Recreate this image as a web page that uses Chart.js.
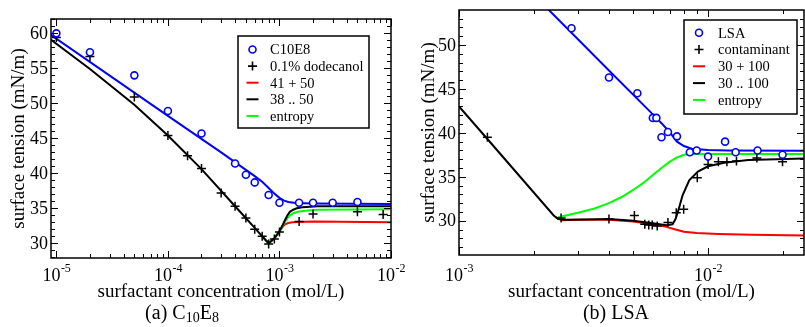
<!DOCTYPE html>
<html>
<head>
<meta charset="utf-8">
<script src="https://cdn.jsdelivr.net/npm/chart.js@4.4.1/dist/chart.umd.min.js"></script>
<style>
html, body { margin: 0; padding: 0; background: #fff; width: 805px; height: 327px; overflow: hidden; }
.panel { position: absolute; top: 0; }
</style>
</head>
<body>
<div class="panel" style="left:0px"><canvas id="chartA" width="420" height="327"></canvas></div>
<div class="panel" style="left:400px"><canvas id="chartB" width="410" height="327"></canvas></div>
<script>
// ---- panel (a): C10E8 ----
const c10e8Conc    = [1e-5, 2e-5, 5e-5, 1e-4, 2e-4, 4e-4, 5e-4, 6e-4, 8e-4, 1e-3, 1.5e-3, 2e-3, 3e-3, 5e-3];
const c10e8Tension = [60.0, 57.3, 54.0, 48.9, 45.7, 41.4, 39.8, 38.7, 36.9, 35.8, 35.8, 35.8, 35.8, 35.9];

const dodecConc    = [1e-5, 2e-5, 5e-5, 1e-4, 1.5e-4, 2e-4, 3e-4, 4e-4, 5e-4, 6e-4, 7e-4, 8e-4, 9e-4, 1e-3, 1.5e-3, 2e-3, 5e-3, 8.5e-3];
const dodecTension = [59.4, 56.7, 50.9, 45.4, 42.5, 40.7, 37.2, 35.3, 33.6, 32.0, 31.0, 29.9, 30.6, 31.6, 33.1, 34.2, 34.5, 34.1];

const fitAConc    = [8.9e-6, 1e-4, 3e-4, 5e-4, 6e-4, 7e-4, 8e-4, 9e-4, 1e-3, 1.1e-3, 1.2e-3, 1.4e-3, 2e-3, 1e-2];
const fitATension = [59.8, 48.2, 43.0, 40.5, 39.6, 38.8, 37.9, 37.1, 36.5, 36.1, 35.9, 35.75, 35.7, 35.6];

const blackAConc    = [8.9e-6, 2e-5, 5e-5, 1e-4, 2e-4, 4e-4, 6e-4, 7e-4, 8e-4, 9e-4, 1e-3, 1.06e-3, 1.12e-3, 1.18e-3, 1.24e-3, 1.33e-3, 1.43e-3, 1.6e-3, 1.75e-3, 2.2e-3, 1e-2];
const blackATension = [59.1, 54.9, 49.8, 45.4, 40.6, 35.3, 32.2, 31.0, 30.0, 30.7, 31.7, 32.5, 33.3, 34.0, 34.5, 34.8, 35.0, 35.15, 35.2, 35.3, 35.3];

const redAConc    = [7e-4, 8e-4, 9e-4, 1e-3, 1.06e-3, 1.12e-3, 1.2e-3, 1.3e-3, 1.5e-3, 2e-3, 1e-2];
const redATension = [31.0, 30.0, 30.7, 31.7, 32.3, 32.7, 32.9, 33.0, 33.05, 33.1, 33.0];

const greenAConc    = [7e-4, 8e-4, 9e-4, 1e-3, 1.06e-3, 1.12e-3, 1.18e-3, 1.24e-3, 1.33e-3, 1.5e-3, 1.8e-3, 2.2e-3, 1e-2];
const greenATension = [31.0, 30.0, 30.7, 31.7, 32.4, 33.1, 33.6, 34.0, 34.3, 34.55, 34.7, 34.8, 34.85];

const labelsA = ['C10E8', '0.1% dodecanol', '41 + 50', '38 .. 50', 'entropy'];

// ---- panel (b): LSA ----
const lsaConc    = [2.83e-3, 4.0e-3, 5.2e-3, 6.0e-3, 6.2e-3, 6.5e-3, 6.9e-3, 7.5e-3, 8.45e-3, 9.0e-3, 1.0e-2, 1.17e-2, 1.29e-2, 1.58e-2, 1.99e-2];
const lsaTension = [51.9, 46.3, 44.5, 41.7, 41.7, 39.5, 40.1, 39.6, 37.8, 38.0, 37.3, 39.0, 37.8, 38.0, 37.5];

const contConc    = [1.3e-3, 2.57e-3, 4.0e-3, 5.06e-3, 5.57e-3, 5.78e-3, 5.97e-3, 6.25e-3, 6.9e-3, 7.45e-3, 7.98e-3, 9.05e-3, 1.0e-2, 1.1e-2, 1.19e-2, 1.3e-2, 1.57e-2, 1.99e-2];
const contTension = [39.5, 30.3, 30.2, 30.6, 29.6, 29.5, 29.5, 29.4, 29.8, 30.9, 31.3, 34.9, 36.4, 36.7, 36.7, 36.8, 37.15, 36.7];

const fitBConc    = [2.2e-3, 4e-3, 6e-3, 6.5e-3, 7e-3, 7.5e-3, 8e-3, 8.6e-3, 1e-2, 1.2e-2, 2.5e-2];
const fitBTension = [54.5, 47.1, 42.1, 41.1, 40.1, 39.0, 38.5, 38.2, 38.05, 38.0, 37.95];

const blackBConc    = [1e-3, 1.3e-3, 2.4e-3, 2.5e-3, 2.65e-3, 3.2e-3, 4e-3, 5e-3, 6e-3, 6.8e-3, 7.2e-3, 7.4e-3, 7.6e-3, 7.9e-3, 8.4e-3, 9.1e-3, 1e-2, 1.16e-2, 1.45e-2, 2.5e-2];
const blackBTension = [43.0, 39.3, 30.6, 30.2, 30.1, 30.15, 30.2, 30.0, 29.7, 29.5, 29.6, 30.2, 31.2, 32.9, 34.6, 35.6, 36.2, 36.6, 36.9, 37.1];

const redBConc    = [2.45e-3, 2.6e-3, 3e-3, 4e-3, 5e-3, 6e-3, 6.8e-3, 7.4e-3, 8e-3, 9e-3, 1.1e-2, 1.5e-2, 2.5e-2];
const redBTension = [30.4, 30.05, 30.1, 30.1, 29.9, 29.6, 29.3, 29.0, 28.75, 28.6, 28.5, 28.4, 28.3];

const greenBConc    = [2.5e-3, 3e-3, 3.5e-3, 4e-3, 4.5e-3, 5e-3, 5.5e-3, 6e-3, 6.5e-3, 7e-3, 7.5e-3, 8e-3, 9e-3, 2.5e-2];
const greenBTension = [30.4, 30.9, 31.4, 32.0, 32.7, 33.5, 34.3, 35.2, 36.0, 36.7, 37.2, 37.5, 37.6, 37.6];

const labelsB = ['LSA', 'contaminant', '30 + 100', '30 .. 100', 'entropy'];

// tick labels
const yTicksA = [30, 35, 40, 45, 50, 55, 60];
const yTicksB = [30, 35, 40, 45, 50];
const xDecadesA = [-5, -4, -3, -2];
const xDecadesB = [-3, -2];

const SERIF = '"Liberation Serif", "Times New Roman", serif';

function toPoints(xs, ys) {
    return xs.map((x, i) => ({ x: x, y: ys[i] }));
}

/**
 * Frame, inward ticks, tick labels, axis titles and caption
 */
const framePlugin = {
    id: 'frame',
    afterDraw(chart, args, o) {
        const ctx = chart.ctx;
        const a = chart.chartArea;
        const xs = chart.scales.x;
        const ys = chart.scales.y;
        ctx.save();
        ctx.strokeStyle = '#000';
        ctx.lineWidth = 1;
        ctx.beginPath();
        // x ticks (top and bottom, pointing in)
        o.xDecades.forEach(d => {
            for (let m = 1; m <= 9; m++) {
                const v = m * Math.pow(10, d);
                if (v < xs.min || v > xs.max) continue;
                const p = Math.round(xs.getPixelForValue(v)) + 0.5;
                const len = m === 1 ? 7 : 4;
                ctx.moveTo(p, a.bottom); ctx.lineTo(p, a.bottom - len);
                ctx.moveTo(p, a.top); ctx.lineTo(p, a.top + len);
            }
        });
        // y ticks (left and right)
        for (let v = Math.ceil(ys.min); v <= ys.max; v++) {
            const p = Math.round(ys.getPixelForValue(v)) + 0.5;
            const len = v % 5 === 0 ? 7 : 4;
            ctx.moveTo(a.left, p); ctx.lineTo(a.left + len, p);
            ctx.moveTo(a.right, p); ctx.lineTo(a.right - len, p);
        }
        ctx.stroke();
        ctx.lineWidth = 1.5;
        ctx.strokeRect(a.left, a.top, a.right - a.left, a.bottom - a.top);

        ctx.fillStyle = '#000';
        // y tick labels
        ctx.font = '18px ' + SERIF;
        ctx.textAlign = 'right';
        ctx.textBaseline = 'middle';
        o.yTicks.forEach(v => {
            ctx.fillText(String(v), a.left - 3, ys.getPixelForValue(v) + 1);
        });
        // x tick labels 10^d
        ctx.textBaseline = 'alphabetic';
        ctx.textAlign = 'left';
        o.xDecades.forEach(d => {
            const p = xs.getPixelForValue(Math.pow(10, d));
            ctx.font = '18px ' + SERIF;
            const w1 = ctx.measureText('10').width;
            ctx.font = '12px ' + SERIF;
            const w2 = ctx.measureText('-' + Math.abs(d)).width;
            const x0 = p - (w1 + w2) / 2;
            ctx.font = '18px ' + SERIF;
            ctx.fillText('10', x0, 281);
            ctx.font = '12px ' + SERIF;
            ctx.fillText('-' + Math.abs(d), x0 + w1 + 0.5, 272);
        });
        // axis titles
        ctx.font = '19px ' + SERIF;
        ctx.textAlign = 'center';
        ctx.fillText(o.xTitle, (a.left + a.right) / 2, 297);
        ctx.save();
        ctx.translate(o.yTitleX, (a.top + a.bottom) / 2);
        ctx.rotate(-Math.PI / 2);
        ctx.textBaseline = 'middle';
        ctx.fillText(o.yTitle, 0, 0);
        ctx.restore();
        // caption with subscripts
        const parts = o.caption;
        let total = 0;
        parts.forEach(pt => {
            ctx.font = (pt.sub ? '14px ' : '20px ') + SERIF;
            total += ctx.measureText(pt.t).width;
        });
        let cx = o.captionX - total / 2;
        ctx.textAlign = 'left';
        parts.forEach(pt => {
            ctx.font = (pt.sub ? '14px ' : '20px ') + SERIF;
            ctx.fillText(pt.t, cx, pt.sub ? 322 : 319);
            cx += ctx.measureText(pt.t).width;
        });
        ctx.restore();
    }
};

/**
 * Boxed legend inside the plot
 */
const boxLegendPlugin = {
    id: 'boxLegend',
    afterDraw(chart, args, o) {
        const ctx = chart.ctx;
        ctx.save();
        ctx.fillStyle = '#fff';
        ctx.fillRect(o.left, o.top, o.width, o.height);
        ctx.strokeStyle = '#000';
        ctx.lineWidth = 1.5;
        ctx.strokeRect(o.left, o.top, o.width, o.height);
        ctx.font = '14.5px ' + SERIF;
        ctx.textBaseline = 'middle';
        ctx.textAlign = 'left';
        o.items.forEach((idx, i) => {
            const ds = chart.data.datasets[idx];
            const y = o.top + o.firstRow + i * o.rowStep;
            const sx = o.left + o.symbolX;
            ctx.strokeStyle = ds.borderColor;
            ctx.lineWidth = ds.pointStyle ? 1.6 : 2;
            ctx.beginPath();
            if (ds.pointStyle === 'circle') {
                ctx.arc(sx, y, 3.5, 0, Math.PI * 2);
            } else if (ds.pointStyle === 'cross') {
                ctx.moveTo(sx - 4.5, y); ctx.lineTo(sx + 4.5, y);
                ctx.moveTo(sx, y - 4.5); ctx.lineTo(sx, y + 4.5);
            } else {
                ctx.moveTo(sx - 6, y); ctx.lineTo(sx + 6, y);
            }
            ctx.stroke();
            ctx.fillStyle = '#000';
            ctx.fillText(ds.label, o.left + o.textX, y + 1);
        });
        ctx.restore();
    }
};

function lineSet(label, xs, ys, color, order) {
    return {
        label: label,
        data: toPoints(xs, ys),
        showLine: true,
        borderColor: color,
        backgroundColor: color,
        borderWidth: 2,
        pointRadius: 0,
        tension: 0,
        order: order
    };
}

function markerSet(label, xs, ys, style, color) {
    return {
        label: label,
        data: toPoints(xs, ys),
        showLine: false,
        pointStyle: style,
        pointRadius: style === 'circle' ? 3.5 : 4.5,
        borderColor: color,
        backgroundColor: style === 'circle' ? '#fff' : color,
        pointBorderWidth: style === 'circle' ? 1.6 : 1.5,
        order: 0
    };
}

function makePanel(canvasId, p) {
    return new Chart(document.getElementById(canvasId), {
        type: 'scatter',
        data: {
            datasets: [
                markerSet(p.labels[0], p.circleX, p.circleY, 'circle', '#0000ff'),
                markerSet(p.labels[1], p.crossX, p.crossY, 'cross', '#000000'),
                lineSet(p.labels[2], p.redX, p.redY, '#ff0000', 4),
                lineSet(p.labels[3], p.blackX, p.blackY, '#000000', 2),
                lineSet(p.labels[4], p.greenX, p.greenY, '#00ff00', 3),
                lineSet('', p.fitX, p.fitY, '#0000ff', 1)
            ]
        },
        options: {
            responsive: false,
            animation: false,
            layout: { padding: p.padding },
            scales: {
                x: { type: 'logarithmic', min: p.xMin, max: p.xMax, display: false },
                y: { type: 'linear', min: p.yMin, max: p.yMax, display: false }
            },
            plugins: {
                legend: { display: false },
                tooltip: { enabled: false },
                frame: {
                    xDecades: p.xDecades,
                    yTicks: p.yTicks,
                    xTitle: 'surfactant concentration (mol/L)',
                    yTitle: 'surface tension (mN/m)',
                    yTitleX: p.yTitleX,
                    caption: p.caption,
                    captionX: p.captionX
                },
                boxLegend: p.legend
            }
        },
        plugins: [framePlugin, boxLegendPlugin]
    });
}

document.addEventListener('DOMContentLoaded', function() {
    makePanel('chartA', {
        labels: labelsA,
        circleX: c10e8Conc, circleY: c10e8Tension,
        crossX: dodecConc, crossY: dodecTension,
        redX: redAConc, redY: redATension,
        blackX: blackAConc, blackY: blackATension,
        greenX: greenAConc, greenY: greenATension,
        fitX: fitAConc, fitY: fitATension,
        padding: { left: 51, right: 29, top: 19, bottom: 69 },
        xMin: 8.95e-6, xMax: 1e-2, yMin: 27.9, yMax: 62.05,
        xDecades: xDecadesA, yTicks: yTicksA,
        yTitleX: 19,
        caption: [{ t: '(a) C' }, { t: '10', sub: true }, { t: 'E' }, { t: '8', sub: true }],
        captionX: 182,
        legend: { left: 238, top: 36, width: 131, height: 92, symbolX: 14.5, textX: 32, firstRow: 13.5, rowStep: 16.6, items: [0, 1, 2, 3, 4] }
    });
    makePanel('chartB', {
        labels: labelsB,
        circleX: lsaConc, circleY: lsaTension,
        crossX: contConc, crossY: contTension,
        redX: redBConc, redY: redBTension,
        blackX: blackBConc, blackY: blackBTension,
        greenX: greenBConc, greenY: greenBTension,
        fitX: fitBConc, fitY: fitBTension,
        padding: { left: 59, right: 2, top: 10, bottom: 72 },
        xMin: 1e-3, xMax: 0.02427, yMin: 26.1, yMax: 53.98,
        xDecades: xDecadesB, yTicks: yTicksB,
        yTitleX: 29,
        caption: [{ t: '(b) LSA' }],
        captionX: 216,
        legend: { left: 284, top: 20, width: 113, height: 94, symbolX: 15, textX: 34, firstRow: 12.7, rowStep: 16.8, items: [0, 1, 2, 3, 4] }
    });
});
</script>
</body>
</html>
